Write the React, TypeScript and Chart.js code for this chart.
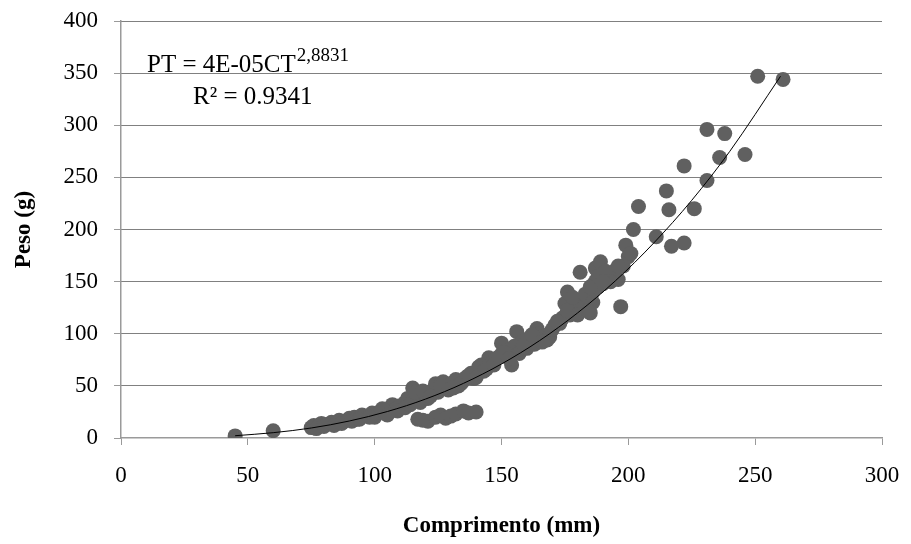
import React, { useEffect, useRef } from "react";
import { Chart, registerables } from "chart.js";

Chart.register(...registerables);

// Scatter observations: length (mm) and weight (g)
const lengthMm: number[] = [
  45, 60,
  75, 76, 78, 79, 81, 83, 85, 86, 88, 90, 92, 93, 95, 97, 99, 100, 102, 104,
  106, 107, 108, 110, 111, 112, 113, 115, 115, 117, 118, 120, 121, 123, 124, 125,
  127, 128, 130, 132, 133, 135, 136, 138, 139, 141, 142, 143, 145, 146, 148, 150,
  150, 152, 154, 155, 156, 157, 158, 160, 161, 163, 164, 165, 167, 168, 169, 170,
  171, 173, 174, 175, 176, 177, 178, 179, 180, 181, 182, 183, 184, 185, 186, 187,
  187, 188, 189, 190, 192, 194, 195, 196, 197, 198, 199, 200, 201, 202, 204, 211,
  215, 216, 217, 222, 222, 226, 231, 231, 236, 238, 246, 251, 261,
  117, 119, 121, 124, 126, 128, 130, 132, 135, 137, 140,
  77, 80, 84, 87, 91, 94, 98, 103, 105, 109, 112, 114, 116, 119, 122, 126,
  129, 131, 134, 137, 140, 144, 147, 149, 151, 153, 159, 162, 166, 172, 176,
  178, 180, 183, 185, 188, 191, 193, 196, 186, 184, 190,
];
const weightG: number[] = [
  2, 7,
  10, 12, 11, 14, 13, 15, 14, 17, 16, 19, 20, 18, 22, 21, 24, 20, 25, 24,
  28, 32, 27, 31, 29, 34, 38, 48, 36, 40, 34, 42, 38, 46, 52, 44,
  54, 48, 52, 56, 50, 55, 58, 62, 57, 68, 70, 64, 77, 72, 76, 91,
  80, 84, 70, 88, 102, 81, 92, 86, 96, 90, 105, 100, 98, 94, 97, 104,
  108, 110, 115, 129, 140, 118, 126, 120, 124, 159, 130, 128, 135, 120, 140, 150,
  163, 145, 169, 148, 155, 158, 161, 152, 126, 165, 185, 174, 177, 200, 222, 193,
  237, 219, 184, 261, 187, 220, 247, 296, 269, 292, 272, 347, 344,
  18, 17, 16, 20, 22, 19, 21, 23, 26, 24, 25,
  9, 11, 12, 14, 16, 18, 20, 28, 22, 26, 29, 32, 44, 45, 40, 50,
  46, 48, 52, 60, 58, 66, 70, 78, 82, 76, 90, 99, 92, 112, 122,
  135, 118, 138, 145, 155, 160, 150, 165, 130, 122, 150,
];

// Power trendline
const trendX: number[] = [45, 60, 75, 90, 105, 120, 135, 150, 165, 180, 195, 210, 225, 240, 260];
const trendY: number[] = [2.2, 5.1, 9.6, 16.3, 25.4, 37.3, 52.4, 71, 93.4, 120, 151, 187, 228, 275, 347];

const xTicks: number[] = [0, 50, 100, 150, 200, 250, 300];
const yTicks: number[] = [0, 50, 100, 150, 200, 250, 300, 350, 400];

const equationMain = "PT = 4E-05CT";
const equationExp = "2,8831";
const equationR2 = "R\u00B2 = 0.9341";
const xTitle = "Comprimento (mm)";
const yTitle = "Peso (g)";

export default function App() {
  const ref = useRef<HTMLCanvasElement | null>(null);

  useEffect(() => {
    const canvas = ref.current;
    if (!canvas) return;

    const scatterData = lengthMm.map((x, i) => ({ x, y: weightG[i] }));
    const trendData = trendX.map((x, i) => ({ x, y: trendY[i] }));

    const equationPlugin = {
      id: "equation",
      afterDraw(chart: any) {
        const ctx = chart.ctx;
        ctx.save();
        ctx.fillStyle = "#000";
        ctx.textBaseline = "alphabetic";
        ctx.textAlign = "left";
        ctx.font = "25px 'Liberation Serif'";
        ctx.fillText(equationMain, 147, 72);
        const w = ctx.measureText(equationMain).width;
        ctx.font = "19px 'Liberation Serif'";
        ctx.fillText(equationExp, 147 + w + 1, 61);
        ctx.font = "25px 'Liberation Serif'";
        ctx.fillText(equationR2, 193, 104);
        ctx.restore();
      },
    };

    const chart = new Chart(canvas, {
      type: "scatter",
      data: {
        datasets: [
          {
            type: "line",
            label: "trend",
            data: trendData,
            borderColor: "#000",
            borderWidth: 1,
            pointRadius: 0,
            fill: false,
            cubicInterpolationMode: "monotone",
            order: 0,
          } as any,
          {
            label: "dados",
            data: scatterData,
            backgroundColor: "#606060",
            borderWidth: 0,
            pointRadius: 7.5,
            order: 1,
          },
        ],
      },
      options: {
        responsive: false,
        animation: false,
        events: [],
        layout: { padding: { left: 0, right: 29, top: 21, bottom: 0 } },
        plugins: {
          legend: { display: false },
          tooltip: { enabled: false },
        },
        scales: {
          x: {
            type: "linear",
            min: 0,
            max: 300,
            afterBuildTicks: (s: any) => {
              s.ticks = xTicks.map((v) => ({ value: v }));
            },
            afterFit: (s: any) => {
              s.height = 106;
              s.paddingLeft = 0;
              s.paddingRight = 0;
            },
            ticks: {
              color: "#000",
              padding: 17,
              font: { family: "'Liberation Serif'", size: 23 },
            },
            grid: {
              drawOnChartArea: false,
              drawTicks: true,
              tickLength: 7,
              tickColor: "#9a9a9a",
              color: "#9a9a9a",
            },
            border: { color: "#9a9a9a", width: 1.5 },
            title: {
              display: true,
              text: xTitle,
              color: "#000",
              font: { family: "'Liberation Serif'", size: 23, weight: "bold" },
              padding: { top: 0, bottom: 4 },
            },
          },
          y: {
            type: "linear",
            min: 0,
            max: 400,
            afterBuildTicks: (s: any) => {
              s.ticks = yTicks.map((v) => ({ value: v }));
            },
            afterFit: (s: any) => {
              s.width = 121;
              s.paddingTop = 0;
              s.paddingBottom = 0;
            },
            ticks: {
              color: "#000",
              padding: 16,
              font: { family: "'Liberation Serif'", size: 23 },
            },
            grid: {
              drawOnChartArea: true,
              drawTicks: true,
              tickLength: 7,
              color: (c: any) => (c.tick && c.tick.value === 0 ? "rgba(0,0,0,0)" : "#000"),
              tickColor: "#9a9a9a",
              tickBorderDash: [],
              lineWidth: 1,
            },
            border: { color: "#9a9a9a", width: 1.5, dash: [1, 1] },
            title: {
              display: true,
              text: yTitle,
              color: "#000",
              font: { family: "'Liberation Serif'", size: 23, weight: "bold" },
              padding: { top: 10, bottom: 0 },
            },
          },
        },
      },
      plugins: [equationPlugin],
    });

    return () => {
      chart.destroy();
    };
  }, []);

  return (
    <div style={{ position: "absolute", left: 0, top: 0, width: 911, height: 544, background: "#fff" }}>
      <canvas ref={ref} width={911} height={544} />
    </div>
  );
}
